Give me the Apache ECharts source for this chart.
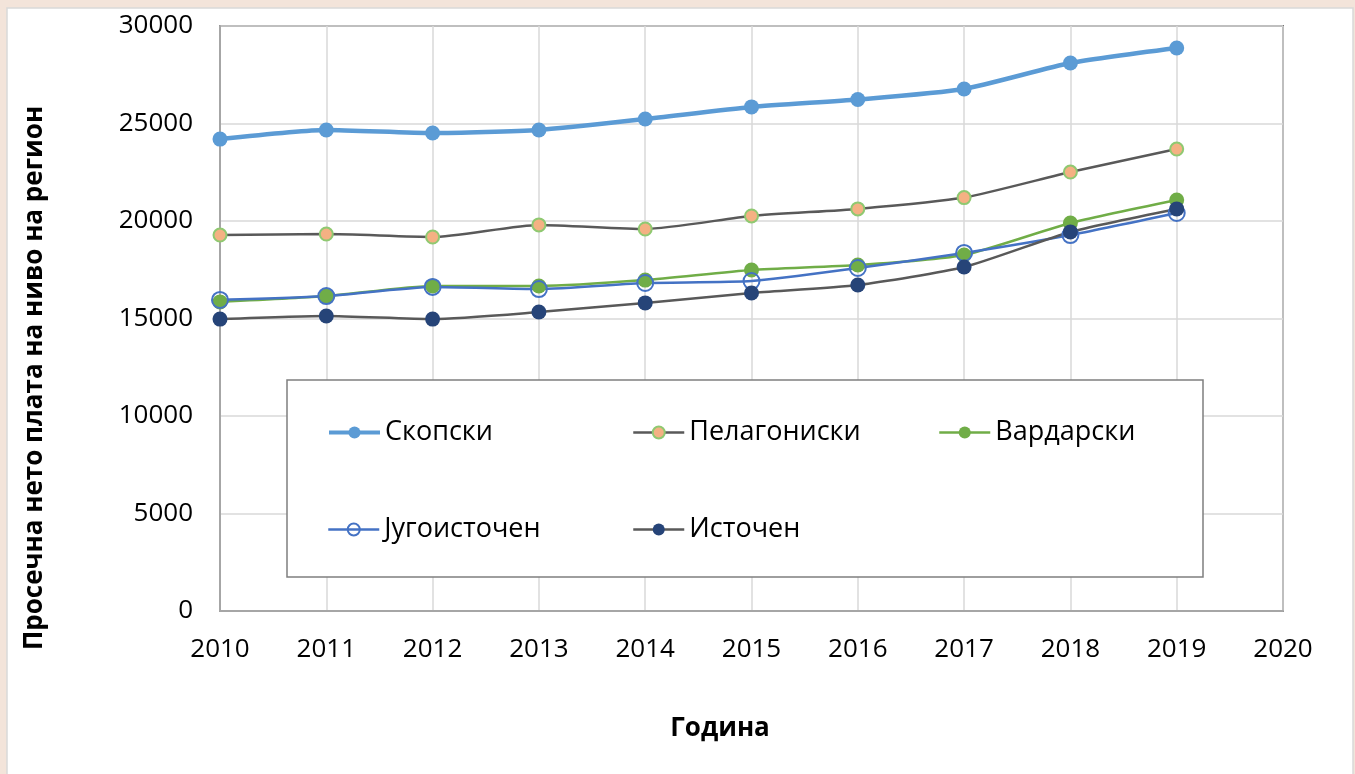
<!DOCTYPE html>
<html>
<head>
<meta charset="utf-8">
<script src="https://cdn.jsdelivr.net/npm/echarts@6/dist/echarts.min.js"></script>
<style>
  html, body { margin: 0; padding: 0; background: #f3e4da; }
  #chart { width: 1355px; height: 774px; }
</style>
</head>
<body>
<div id="chart"></div>
<script>
// податоци по региони (просечна нето плата)
var years = [2010, 2011, 2012, 2013, 2014, 2015, 2016, 2017, 2018, 2019]
var skopski = [24200, 24670, 24510, 24670, 25230, 25850, 26230, 26770, 28100, 28870]
var pelagoniski = [19280, 19330, 19180, 19800, 19590, 20260, 20620, 21200, 22510, 23690]
var vardarski = [15850, 16150, 16670, 16670, 16970, 17490, 17740, 18260, 19900, 21080]
var jugoistocen = [15950, 16150, 16620, 16510, 16820, 16920, 17590, 18360, 19280, 20410]
var istocen = [14970, 15130, 14970, 15330, 15800, 16310, 16720, 17640, 19440, 20620]
var yTicks = [0, 5000, 10000, 15000, 20000, 25000, 30000]

var FONT = '"Open Sans", "Noto Sans", sans-serif'

function pairs(vals) {
    return years.map(function (y, i) { return [y, vals[i]] })
}

function legendAt(name, left, top, lineWidth) {
    return {
        data: [{ name: name, lineStyle: { width: lineWidth } }],
        left: left,
        top: top,
        padding: 0,
        itemWidth: 51,
        itemHeight: 15,
        textStyle: { fontFamily: FONT, fontSize: 27, color: '#000' },
        selectedMode: false
    }
}

var myChart = echarts.init(document.getElementById('chart'))

var option = {
    backgroundColor: '#f3e4da',
    animation: false,
    graphic: [
        {
            type: 'rect', z: -10,
            shape: { x: 7, y: 8, width: 1346, height: 770 },
            style: { fill: '#fff', stroke: '#d9d9d9', lineWidth: 1.5 }
        },
        {
            type: 'rect', z: 1,
            shape: { x: 287, y: 380, width: 916, height: 197 },
            style: { fill: '#fff', stroke: '#7f7f7f', lineWidth: 1.5 }
        },
        {
            type: 'text', x: 35, y: 378, rotation: Math.PI / 2,
            style: {
                text: 'Просечна нето плата на ниво на регион',
                fontFamily: FONT, fontSize: 26, fontWeight: 'bold', fill: '#000',
                align: 'center', verticalAlign: 'middle'
            }
        },
        {
            type: 'text', x: 720, y: 729,
            style: {
                text: 'Година',
                fontFamily: FONT, fontSize: 26, fontWeight: 'bold', fill: '#000',
                align: 'center', verticalAlign: 'middle'
            }
        }
    ],
    legend: [
        legendAt('Скопски', 327, 419, 4),
        legendAt('Пелагониски', 632, 419, 2.5),
        legendAt('Вардарски', 938, 419, 2.5),
        legendAt('Југоисточен', 327, 516, 2.5),
        legendAt('Источен', 632, 516, 2.5)
    ],
    grid: {
        left: 220, top: 26, right: 72, bottom: 163,
        show: true, borderColor: '#767676', borderWidth: 2,
        backgroundColor: 'transparent'
    },
    xAxis: {
        type: 'value',
        min: 2010, max: 2020, interval: 1,
        axisLine: { show: true, lineStyle: { color: '#a6a6a6', width: 2 } },
        axisTick: { show: false },
        splitLine: { show: true, lineStyle: { color: '#d9d9d9', width: 1.5 } },
        axisLabel: {
            fontFamily: FONT, fontSize: 26, color: '#000', margin: 26,
            formatter: function (v) { return String(v) }
        }
    },
    yAxis: {
        type: 'value',
        min: yTicks[0], max: yTicks[yTicks.length - 1], interval: 5000,
        axisLine: { show: true, lineStyle: { color: '#a6a6a6', width: 2 } },
        axisTick: { show: false },
        splitLine: { show: true, lineStyle: { color: '#d9d9d9', width: 1.5 } },
        axisLabel: {
            fontFamily: FONT, fontSize: 26, color: '#000', margin: 27,
            formatter: function (v) { return String(v) }
        }
    },
    series: [
        {
            name: 'Скопски', type: 'line', smooth: 0.2,
            data: pairs(skopski),
            symbol: 'circle', symbolSize: 15,
            lineStyle: { color: '#5b9bd5', width: 4.5 },
            itemStyle: { color: '#5b9bd5' }
        },
        {
            name: 'Пелагониски', type: 'line', smooth: 0.2,
            data: pairs(pelagoniski),
            symbol: 'circle', symbolSize: 13,
            lineStyle: { color: '#595959', width: 2.5 },
            itemStyle: { color: '#f4b183', borderColor: '#8fc971', borderWidth: 2 }
        },
        {
            name: 'Вардарски', type: 'line', smooth: 0.2,
            data: pairs(vardarski),
            symbol: 'circle', symbolSize: 15,
            lineStyle: { color: '#70ad47', width: 2.5 },
            itemStyle: { color: '#70ad47' }
        },
        {
            name: 'Југоисточен', type: 'line', smooth: 0.2,
            data: pairs(jugoistocen),
            symbol: 'circle', symbolSize: 16,
            lineStyle: { color: '#4472c4', width: 2.5 },
            itemStyle: { color: 'rgba(0,0,0,0)', borderColor: '#4472c4', borderWidth: 2 }
        },
        {
            name: 'Источен', type: 'line', smooth: 0.2,
            data: pairs(istocen),
            symbol: 'circle', symbolSize: 15,
            lineStyle: { color: '#595959', width: 2.5 },
            itemStyle: { color: '#264478' }
        }
    ]
}

myChart.setOption(option)
</script>
</body>
</html>
